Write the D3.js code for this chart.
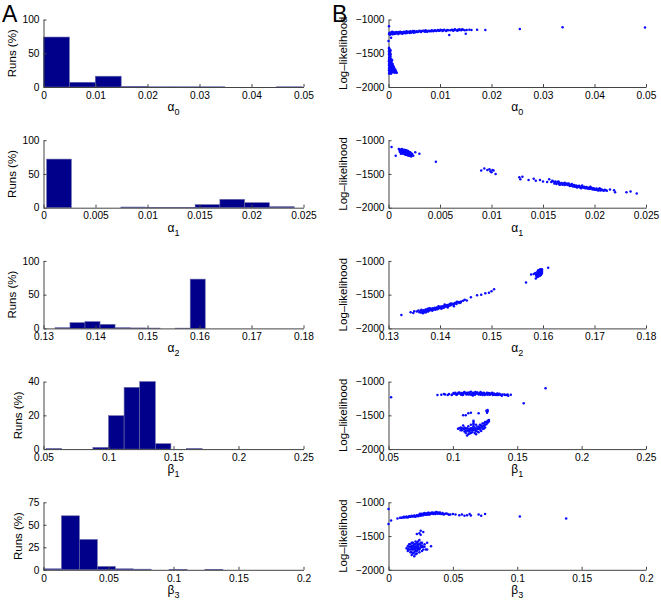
<!DOCTYPE html>
<html><head><meta charset="utf-8">
<script src="https://cdn.jsdelivr.net/npm/d3@7"></script>
<style>
body{margin:0;background:#fff;}
svg{font-family:"Liberation Sans",Arial,Helvetica,sans-serif;}
.tick text{font-size:10.2px;fill:#000;}
.domain,.tick line{stroke:#444;}
</style></head><body>
<script>
// ---------------- DATA ----------------
const paramNames = ["0","1","2","1","3"];      // subscripts
const paramSymbols = ["α","α","α","β","β"];

// histogram bin edges (A)
const a0Edges = [0,0.00498,0.00996,0.01494,0.01992,0.0249,0.02988,0.03486,0.03984,0.04482,0.0498];
const a1Edges = [0.0003,0.00268,0.00506,0.00744,0.00982,0.0122,0.01458,0.01696,0.01934,0.02172,0.0241];
const a2Edges = [0.1322,0.13509,0.13798,0.14087,0.14376,0.14665,0.14954,0.15243,0.15532,0.15821,0.1611];
const b1Edges = [0.052,0.064,0.076,0.088,0.1,0.112,0.124,0.136,0.148,0.16,0.172];
const b3Edges = [0,0.0138,0.0276,0.0414,0.0552,0.069,0.0828,0.0966,0.1104,0.1242,0.138];
// runs (%) per bin
const a0Runs = [74,7,16,1,0.3,0.3,0.3,0,0,0.3];
const a1Runs = [72,0,0,1,0.5,0.5,4.5,12.4,7.4,1.5];
const a2Runs = [1,8.5,10,6,1,0.7,0.5,0,0.4,73];
const b1Runs = [0.3,0,0,1,19.8,36.6,40,3.2,0,0.3];
const b3Runs = [1.1,60,33.7,3.7,1.1,0.7,0,0.3,0,0.3];

// axis domains and ticks
const xDomains = [[0,0.05],[0,0.025],[0.13,0.18],[0.05,0.25],[0,0.2]];
const xTicks = [
  [0,0.01,0.02,0.03,0.04,0.05],
  [0,0.005,0.01,0.015,0.02,0.025],
  [0.13,0.14,0.15,0.16,0.17,0.18],
  [0.05,0.1,0.15,0.2,0.25],
  [0,0.05,0.1,0.15,0.2]
];
const runsDomains = [[0,100],[0,100],[0,100],[0,40],[0,75]];
const runsTicks = [[0,50,100],[0,50,100],[0,50,100],[0,20,40],[0,25,50,75]];
const llDomain = [-2000,-1000];
const llTicks = [-2000,-1500,-1000];

// scatter (B): [parameter value, log-likelihood]
const a0Scatter = [
[0.0001,-1420],[0.0002,-1440],[0.0003,-1450],[0.0001,-1470],[0.0004,-1460],[0.0002,-1490],[0.0003,-1500],[0.0001,-1520],[0.0002,-1540],[0.0004,-1550],[0.0001,-1570],[0.0003,-1580],[0.0005,-1590],[0.0002,-1600],[0.0004,-1610],[0.0001,-1620],[0.0006,-1630],[0.0003,-1640],[0.0002,-1650],[0.0005,-1660],[0.0007,-1670],[0.0001,-1680],[0.0004,-1690],[0.0008,-1700],[0.0002,-1710],[0.0006,-1720],[0.001,-1700],[0.0003,-1730],[0.0005,-1740],[0.0009,-1730],[0.0001,-1750],[0.0004,-1760],[0.0007,-1750],[0.0002,-1770],[0.0006,-1780],[0.0003,-1790],[0.0001,-1800],[0.0012,-1760],[0.0015,-1780],[0.0011,-1720],[0.0008,-1660],[0.0005,-1620],[0.0003,-1680],[0.0006,-1700],[0.0002,-1560],[0.0004,-1520],[0.0013,-1740],[0.0009,-1780],[0.0007,-1600],[0.0005,-1800],
[0.0001,-1430],[0.0002,-1460],[0.0003,-1480],[0.0001,-1510],[0.0003,-1530],[0.0002,-1580],[0.0001,-1600],[0.0003,-1610],[0.0002,-1630],[0.0004,-1640],[0.0001,-1660],[0.0003,-1700],[0.0001,-1720],[0.0004,-1720],[0.0002,-1740],[0.0003,-1760],[0.0005,-1770],[0.0002,-1790],[0.0004,-1800],[0.0006,-1760],[0.0008,-1740],[0.001,-1770],[0.0007,-1720],[0.0005,-1680],[0.0006,-1650],[0.0009,-1690],[0.0011,-1750],[0.0014,-1760],[0.0016,-1790],[0.0012,-1790],
[0.0001,-1100],[0,-1320],[0.0005,-1270],[0.0002,-1200],[0.0004,-1210],[0.0006,-1190],[0.0008,-1220],[0.001,-1200],[0.0012,-1195],[0.0014,-1210],[0.0016,-1190],[0.0018,-1200],[0.002,-1185],[0.0022,-1205],[0.0024,-1195],[0.0026,-1190],[0.0028,-1200],[0.003,-1180],[0.0032,-1195],[0.0034,-1185],[0.0036,-1200],[0.0038,-1180],[0.004,-1190],[0.0042,-1175],[0.0044,-1195],[0.0046,-1180],[0.0048,-1185],[0.005,-1170],[0.0052,-1190],[0.0055,-1175],[0.0058,-1180],[0.006,-1165],[0.0063,-1185],[0.0066,-1170],[0.0069,-1175],[0.0072,-1160],[0.0075,-1180],[0.0078,-1165],[0.0081,-1170],[0.0084,-1160],[0.0087,-1175],[0.009,-1160],[0.0093,-1170],[0.0096,-1155],[0.0099,-1165],[0.0102,-1160],[0.0105,-1170],[0.0108,-1150],[0.0111,-1165],[0.0114,-1155],[0.0118,-1230],[0.012,-1160],[0.0123,-1150],[0.0126,-1165],[0.0129,-1145],[0.0132,-1160],[0.0135,-1150],[0.0138,-1145],[0.0141,-1160],[0.0145,-1150],[0.015,-1210],[0.0152,-1155],[0.0157,-1150],[0.0161,-1155],[0.0172,-1150],[0.0188,-1155],[0.0255,-1140],[0.0338,-1115],[0.0498,-1120],
[0.0003,-1225],[0.0007,-1180],[0.0011,-1215],[0.0015,-1185],[0.0019,-1215],[0.0023,-1180],[0.0027,-1210],[0.0031,-1200],[0.0035,-1175],[0.0041,-1200],[0.0047,-1170],[0.0053,-1180],[0.0062,-1175],[0.0068,-1165],[0.0074,-1170],[0.0083,-1175],[0.0092,-1165],[0.0101,-1150],[0.0112,-1170],[0.0124,-1160],[0.0134,-1165],[0.0143,-1145],
[0.0001,-1215],[0.0003,-1195],[0.0005,-1205],[0.0007,-1215],[0.0009,-1190],[0.0011,-1195],[0.0013,-1205],[0.0017,-1200],[0.0021,-1195],[0.0025,-1205],[0.0029,-1190],[0.0033,-1205],[0.0037,-1190],[0.0043,-1185],[0.0049,-1195],[0.0056,-1185],[0.0064,-1170],[0.0071,-1180],[0.0079,-1175],[0.0088,-1165],[0.0097,-1165],[0.0106,-1160],[0.0116,-1160],[0.0127,-1155],[0.0137,-1155],[0.0148,-1160]
];
const a1Scatter = [
[0.0003,-1100],[0.0007,-1230],[0.001,-1130],[0.0011,-1150],[0.0012,-1140],[0.0011,-1170],[0.0013,-1160],[0.0012,-1180],[0.0014,-1150],[0.0013,-1190],[0.0015,-1170],[0.0014,-1200],[0.0016,-1160],[0.0015,-1180],[0.0017,-1190],[0.0016,-1210],[0.0018,-1170],[0.0017,-1200],[0.0019,-1180],[0.0018,-1220],[0.002,-1190],[0.0019,-1210],[0.0021,-1200],[0.002,-1230],[0.0022,-1210],[0.0021,-1180],[0.0022,-1240],[0.0013,-1130],[0.0015,-1140],[0.0017,-1150],[0.0012,-1200],[0.0014,-1170],[0.0016,-1185],[0.0018,-1195],[0.002,-1205],[0.0019,-1160],[0.0023,-1220],[0.0026,-1180],[0.003,-1200],[0.0046,-1320],
[0.0011,-1140],[0.0012,-1160],[0.0013,-1170],[0.0013,-1145],[0.0014,-1185],[0.0015,-1160],[0.0015,-1195],[0.0016,-1175],[0.0016,-1145],[0.0017,-1165],[0.0017,-1215],[0.0018,-1185],[0.0018,-1155],[0.0019,-1195],[0.0019,-1225],[0.002,-1175],[0.002,-1215],[0.0021,-1190],[0.0021,-1225],[0.0022,-1195],[0.0023,-1205],[0.0024,-1230],[0.0012,-1150],[0.0014,-1160],
[0.009,-1450],[0.0093,-1420],[0.0096,-1440],[0.0099,-1460],[0.01,-1475],[0.0102,-1450],[0.0104,-1500],[0.0098,-1430],[0.0101,-1440],
[0.0127,-1550],[0.0128,-1580],[0.013,-1540],[0.0136,-1590],[0.0141,-1570],[0.0143,-1600],[0.0147,-1590],[0.015,-1610],[0.0154,-1620],[0.0156,-1580],[0.0158,-1620],[0.016,-1610],[0.0161,-1640],[0.0162,-1625],[0.0163,-1650],[0.0164,-1620],[0.0165,-1640],[0.0166,-1630],[0.0167,-1655],[0.0168,-1635],[0.0169,-1660],[0.017,-1645],[0.0171,-1665],[0.0172,-1650],[0.0173,-1640],[0.0174,-1665],[0.0175,-1655],[0.0176,-1680],[0.0177,-1660],[0.0178,-1670],[0.0179,-1685],[0.018,-1665],[0.0181,-1690],[0.0182,-1670],[0.0183,-1680],[0.0184,-1695],[0.0185,-1675],[0.0186,-1700],[0.0187,-1685],[0.0188,-1670],[0.0189,-1700],[0.019,-1690],[0.0191,-1710],[0.0192,-1695],[0.0193,-1700],[0.0194,-1715],[0.0195,-1700],[0.0196,-1720],[0.0197,-1705],[0.0198,-1730],[0.0199,-1710],[0.02,-1720],[0.0201,-1735],[0.0202,-1715],[0.0203,-1740],[0.0204,-1725],[0.0205,-1710],[0.0206,-1745],[0.0207,-1730],[0.0208,-1740],[0.021,-1735],[0.0212,-1750],[0.0215,-1730],[0.0219,-1740],[0.022,-1770],[0.0231,-1770],[0.0235,-1760],[0.0241,-1790],[0.0165,-1610],[0.0178,-1650],[0.0187,-1710],[0.0196,-1690],[0.0171,-1630],[0.0183,-1700],
[0.0159,-1600],[0.0162,-1610],[0.0166,-1645],[0.0169,-1640],[0.0172,-1660],[0.0175,-1640],[0.0177,-1675],[0.018,-1680],[0.0182,-1690],[0.0185,-1690],[0.0188,-1690],[0.019,-1705],[0.0193,-1715],[0.0195,-1720],[0.0198,-1715],[0.02,-1735],[0.0202,-1730],[0.0204,-1745],[0.0206,-1725],[0.0209,-1750],[0.0211,-1740],[0.0166,-1660],[0.0174,-1650]
];
const a2Scatter = [
[0.1325,-1800],[0.1343,-1760],[0.1348,-1770],[0.135,-1745],[0.1355,-1750],[0.1358,-1735],[0.136,-1760],[0.1362,-1740],[0.1364,-1725],[0.1366,-1755],[0.1368,-1730],[0.137,-1745],[0.1372,-1720],[0.1374,-1735],[0.1376,-1710],[0.1378,-1740],[0.138,-1720],[0.1382,-1705],[0.1384,-1725],[0.1386,-1700],[0.1388,-1715],[0.139,-1695],[0.1392,-1710],[0.1394,-1690],[0.1396,-1705],[0.1398,-1680],[0.14,-1700],[0.1402,-1675],[0.1404,-1690],[0.1406,-1670],[0.1408,-1685],[0.141,-1660],[0.1412,-1675],[0.1414,-1655],[0.1416,-1670],[0.1418,-1650],[0.142,-1660],[0.1423,-1640],[0.1426,-1650],[0.1429,-1625],[0.1432,-1640],[0.1435,-1615],[0.1438,-1625],[0.1441,-1600],[0.1445,-1590],[0.1448,-1575],[0.1452,-1585],[0.146,-1540],[0.1472,-1510],[0.148,-1500],[0.1488,-1480],[0.1495,-1470],[0.15,-1450],[0.1505,-1420],[0.1367,-1775],[0.1373,-1760],[0.1379,-1700],[0.1385,-1740],[0.1391,-1725],[0.1397,-1670],[0.1403,-1710],[0.1409,-1645],[0.1415,-1690],[0.1421,-1630],[0.1427,-1670],[0.1433,-1605],
[0.1363,-1765],[0.1369,-1740],[0.1371,-1760],[0.1375,-1725],[0.1377,-1750],[0.1381,-1730],[0.1383,-1715],[0.1387,-1725],[0.1389,-1705],[0.1393,-1700],[0.1395,-1715],[0.1399,-1695],[0.1401,-1685],[0.1405,-1680],[0.1407,-1695],[0.1411,-1670],[0.1413,-1660],[0.1417,-1660],[0.1419,-1640],[0.1422,-1650],[0.1425,-1635],[0.1428,-1640],[0.1431,-1620],[0.1437,-1610],[0.144,-1615],
[0.1567,-1320],[0.1577,-1200],[0.1586,-1260],[0.161,-1100],[0.1585,-1180],[0.1588,-1210],[0.159,-1150],[0.159,-1190],[0.1591,-1230],[0.1592,-1170],[0.1592,-1140],[0.1593,-1200],[0.1593,-1160],[0.1594,-1220],[0.1594,-1130],[0.1595,-1180],[0.1595,-1150],[0.1596,-1210],[0.1596,-1170],[0.1597,-1140],[0.1597,-1195],[0.1598,-1160],[0.1598,-1125],[0.1589,-1240],[0.1591,-1175],[0.1593,-1190],[0.1595,-1200],[0.1597,-1175],[0.1582,-1195],[0.1587,-1225],
[0.1589,-1165],[0.159,-1205],[0.1591,-1140],[0.1592,-1215],[0.1593,-1135],[0.1594,-1185],[0.1594,-1160],[0.1595,-1125],[0.1596,-1150],[0.1596,-1190],[0.1597,-1160],[0.1598,-1145],[0.1598,-1180],[0.1588,-1190],[0.1586,-1200]
];
const b1Scatter = [
[0.052,-1230],[0.088,-1200],[0.091,-1195],[0.094,-1190],[0.097,-1185],[0.099,-1200],[0.101,-1180],[0.102,-1165],[0.103,-1195],[0.104,-1175],[0.105,-1160],[0.106,-1185],[0.107,-1170],[0.108,-1195],[0.109,-1155],[0.11,-1180],[0.111,-1165],[0.112,-1190],[0.113,-1170],[0.114,-1150],[0.115,-1185],[0.116,-1165],[0.117,-1195],[0.118,-1175],[0.119,-1160],[0.12,-1190],[0.121,-1170],[0.122,-1180],[0.123,-1200],[0.124,-1165],[0.125,-1185],[0.126,-1175],[0.127,-1195],[0.128,-1170],[0.129,-1190],[0.13,-1180],[0.131,-1200],[0.132,-1175],[0.133,-1190],[0.134,-1185],[0.135,-1200],[0.136,-1180],[0.137,-1195],[0.138,-1210],[0.14,-1190],[0.142,-1200],[0.145,-1195],[0.155,-1320],[0.172,-1100],[0.1035,-1185],[0.1075,-1180],[0.1115,-1175],[0.1155,-1170],[0.1195,-1180],[0.1235,-1180],[0.1275,-1180],[0.1315,-1185],[0.1055,-1175],[0.1135,-1190],[0.1175,-1185],[0.1215,-1195],[0.1255,-1190],[0.1295,-1175],[0.1095,-1170],[0.1165,-1180],[0.1225,-1170],[0.1335,-1200],
[0.1005,-1170],[0.1025,-1190],[0.1045,-1165],[0.1065,-1195],[0.1085,-1165],[0.1105,-1190],[0.1125,-1160],[0.1145,-1195],[0.1185,-1165],[0.1205,-1175],[0.1245,-1200],[0.1265,-1165],[0.1285,-1195],[0.1305,-1165],[0.1325,-1195],[0.1345,-1175],[0.1365,-1190],[0.1385,-1190],[0.1405,-1200],[0.1425,-1190],[0.143,-1210],[0.096,-1200],[0.093,-1185],[0.0995,-1190],[0.1155,-1205],[0.1215,-1155],[0.1175,-1155],[0.1075,-1200],
[0.104,-1700],[0.106,-1680],[0.107,-1720],[0.108,-1650],[0.108,-1700],[0.109,-1740],[0.11,-1690],[0.11,-1760],[0.111,-1720],[0.111,-1800],[0.112,-1660],[0.112,-1740],[0.113,-1700],[0.113,-1770],[0.114,-1720],[0.114,-1640],[0.115,-1750],[0.115,-1690],[0.116,-1600],[0.116,-1720],[0.117,-1760],[0.117,-1680],[0.118,-1640],[0.118,-1730],[0.119,-1700],[0.12,-1670],[0.12,-1750],[0.121,-1640],[0.121,-1710],[0.122,-1680],[0.123,-1620],[0.123,-1700],[0.124,-1660],[0.125,-1600],[0.125,-1680],[0.126,-1630],[0.127,-1580],[0.127,-1440],[0.127,-1420],[0.1265,-1460],[0.126,-1430],[0.11,-1500],[0.112,-1470],[0.114,-1460],[0.108,-1500],[0.12,-1470],[0.116,-1620],[0.116,-1660],[0.109,-1680],[0.118,-1780],[0.122,-1730],[0.106,-1720],
[0.105,-1690],[0.107,-1690],[0.109,-1710],[0.11,-1730],[0.111,-1690],[0.112,-1710],[0.113,-1730],[0.114,-1690],[0.114,-1760],[0.115,-1720],[0.116,-1700],[0.116,-1580],[0.116,-1640],[0.117,-1720],[0.118,-1700],[0.119,-1670],[0.119,-1740],[0.12,-1700],[0.121,-1680],[0.122,-1650],[0.123,-1660],[0.124,-1620],[0.124,-1700],[0.125,-1640],[0.126,-1600],[0.127,-1610],[0.128,-1570],[0.128,-1590],[0.112,-1780]
];
const b3Scatter = [
[0,-1100],[0,-1320],[0.002,-1270],[0.007,-1240],[0.009,-1230],[0.011,-1225],[0.012,-1215],[0.013,-1220],[0.014,-1210],[0.015,-1225],[0.016,-1205],[0.017,-1215],[0.018,-1200],[0.019,-1210],[0.02,-1195],[0.021,-1215],[0.022,-1190],[0.023,-1205],[0.024,-1180],[0.025,-1200],[0.026,-1170],[0.027,-1190],[0.028,-1160],[0.029,-1185],[0.03,-1170],[0.031,-1155],[0.032,-1180],[0.033,-1165],[0.034,-1150],[0.035,-1175],[0.036,-1160],[0.037,-1145],[0.038,-1170],[0.039,-1155],[0.04,-1165],[0.041,-1175],[0.042,-1160],[0.043,-1180],[0.044,-1170],[0.046,-1175],[0.048,-1180],[0.05,-1175],[0.055,-1190],[0.057,-1180],[0.059,-1200],[0.061,-1190],[0.063,-1175],[0.064,-1195],[0.07,-1180],[0.072,-1200],[0.075,-1175],[0.102,-1210],[0.138,-1240],[0.0245,-1170],[0.0265,-1185],[0.0285,-1175],[0.0305,-1160],[0.0325,-1170],[0.0345,-1165],[0.0365,-1175],[0.0385,-1160],[0.0275,-1165],[0.0315,-1180],[0.0355,-1155],[0.0395,-1170],[0.0225,-1200],[0.0205,-1205],[0.0165,-1215],
[0.01,-1230],[0.012,-1225],[0.014,-1220],[0.016,-1215],[0.018,-1210],[0.02,-1205],[0.022,-1200],[0.024,-1195],[0.026,-1190],[0.028,-1180],[0.03,-1185],[0.032,-1160],[0.034,-1170],[0.036,-1170],[0.038,-1150],[0.04,-1150],[0.042,-1175],[0.045,-1165],[0.047,-1185],[0.052,-1180],[0.0255,-1180],[0.0295,-1165],[0.0335,-1155],
[0.014,-1680],[0.015,-1650],[0.016,-1700],[0.016,-1620],[0.017,-1740],[0.017,-1660],[0.018,-1600],[0.018,-1700],[0.019,-1760],[0.019,-1640],[0.02,-1680],[0.02,-1800],[0.021,-1580],[0.021,-1720],[0.022,-1650],[0.022,-1470],[0.022,-1760],[0.023,-1620],[0.023,-1700],[0.024,-1560],[0.024,-1680],[0.025,-1640],[0.025,-1420],[0.025,-1480],[0.026,-1600],[0.026,-1720],[0.027,-1440],[0.027,-1660],[0.028,-1620],[0.029,-1700],[0.03,-1600],[0.03,-1700],[0.033,-1650],[0.018,-1650],[0.02,-1620],[0.021,-1660],[0.023,-1680],[0.024,-1740],[0.026,-1660],[0.019,-1700],[0.015,-1720],[0.022,-1600],
[0.015,-1690],[0.016,-1660],[0.017,-1700],[0.017,-1620],[0.018,-1680],[0.018,-1740],[0.019,-1660],[0.019,-1600],[0.02,-1650],[0.02,-1700],[0.02,-1740],[0.021,-1690],[0.021,-1620],[0.022,-1680],[0.022,-1720],[0.023,-1650],[0.023,-1580],[0.024,-1620],[0.024,-1700],[0.025,-1670],[0.025,-1600],[0.026,-1640],[0.027,-1700],[0.028,-1660],[0.021,-1770],[0.018,-1780],[0.024,-1460]
];

const histEdges = [a0Edges,a1Edges,a2Edges,b1Edges,b3Edges];
const histRuns = [a0Runs,a1Runs,a2Runs,b1Runs,b3Runs];
const scatters = [a0Scatter,a1Scatter,a2Scatter,b1Scatter,b3Scatter];

// ---------------- LAYOUT ----------------
const W = 661, H = 602;
const svg = d3.select("body").append("svg").attr("width",W).attr("height",H);
const leftX = [43.5, 303.5], rightX = [388.5, 646];
const top0 = 19.5, step = 120.7, ph = 67.5;
const fmt = v => { const s = d3.format("~g")(v); return s.replace("-", "\u2013"); };

function xLabel(g, cx, y, sym, sub) {
  const t = g.append("text").attr("x", cx).attr("y", y).attr("text-anchor","middle")
    .style("font-size","12px");
  t.append("tspan").text(sym);
  t.append("tspan").attr("dy", 4).style("font-size","9px").text(sub);
}

for (let i = 0; i < 5; i++) {
  const yTop = top0 + step*i, yBot = yTop + ph;

  // ---- A: histogram ----
  const gA = svg.append("g");
  const x = d3.scaleLinear().domain(xDomains[i]).range(leftX);
  const y = d3.scaleLinear().domain(runsDomains[i]).range([yBot, yTop]);
  const bins = histRuns[i].map((v,k) => ({x0: histEdges[i][k], x1: histEdges[i][k+1], v}));
  gA.selectAll("rect").data(bins).enter().append("rect")
    .attr("x", d => x(d.x0)).attr("width", d => x(d.x1)-x(d.x0))
    .attr("y", d => y(d.v)).attr("height", d => y(0)-y(d.v))
    .attr("fill","#00008a").attr("stroke","#6a6aa8").attr("stroke-width",0.6);
  gA.append("g").attr("transform",`translate(0,${yBot})`)
    .call(d3.axisBottom(x).tickValues(xTicks[i]).tickFormat(fmt).tickSize(-3).tickSizeOuter(0).tickPadding(4.5));
  gA.append("g").attr("transform",`translate(${leftX[0]},0)`)
    .call(d3.axisLeft(y).tickValues(runsTicks[i]).tickFormat(fmt).tickSize(-3).tickSizeOuter(0).tickPadding(4));
  const ylx = (runsDomains[i][1] >= 100) ? 16 : 22;
  gA.append("text").attr("transform",`translate(${ylx},${(yTop+yBot)/2}) rotate(-90)`)
    .attr("text-anchor","middle").style("font-size","11.5px").text("Runs (%)");
  xLabel(gA, (leftX[0]+leftX[1])/2, yBot+24, paramSymbols[i], paramNames[i]);

  // ---- B: scatter ----
  const gB = svg.append("g");
  const xs = d3.scaleLinear().domain(xDomains[i]).range(rightX);
  const ys = d3.scaleLinear().domain(llDomain).range([yBot, yTop]);
  gB.append("g").attr("transform",`translate(0,${yBot})`)
    .call(d3.axisBottom(xs).tickValues(xTicks[i]).tickFormat(fmt).tickSize(-3).tickSizeOuter(0).tickPadding(4.5));
  gB.append("g").attr("transform",`translate(${rightX[0]},0)`)
    .call(d3.axisLeft(ys).tickValues(llTicks).tickFormat(fmt).tickSize(-3).tickSizeOuter(0).tickPadding(4));
  gB.selectAll("circle").data(scatters[i]).enter().append("circle")
    .attr("cx", d => xs(d[0])).attr("cy", d => ys(d[1])).attr("r", 1.25).attr("fill","#0a0aff");
  gB.append("text").attr("transform",`translate(347,${(yTop+yBot)/2}) rotate(-90)`)
    .attr("text-anchor","middle").style("font-size","11.5px").text("Log\u2013likelihood");
  xLabel(gB, (rightX[0]+rightX[1])/2, yBot+24, paramSymbols[i], paramNames[i]);
}

svg.append("text").attr("x",2).attr("y",22).style("font-size","23px").text("A");
svg.append("text").attr("x",332).attr("y",22).style("font-size","23px").text("B");
</script>
</body></html>
